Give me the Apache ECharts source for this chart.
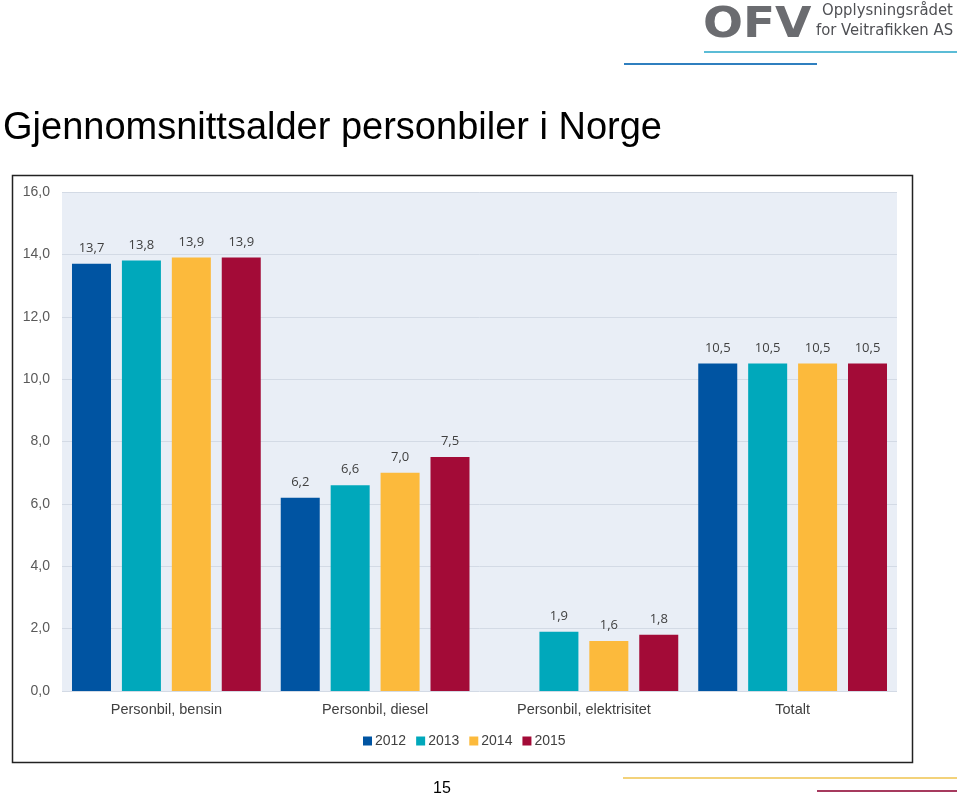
<!DOCTYPE html>
<html><head><meta charset="utf-8">
<script src="https://cdn.jsdelivr.net/npm/echarts@6/dist/echarts.min.js"></script>
<style>html,body{margin:0;padding:0;background:#fff}#c{width:960px;height:798px}</style>
</head><body><div id="c"></div>
<script>
const categories = ['Personbil, bensin', 'Personbil, diesel', 'Personbil, elektrisitet', 'Totalt'];
const years = ['2012', '2013', '2014', '2015'];
const v2012 = [13.7, 6.2, null, 10.5];
const v2013 = [13.8, 6.6, 1.9, 10.5];
const v2014 = [13.9, 7.0, 1.6, 10.5];
const v2015 = [13.9, 7.5, 1.8, 10.5];
const colors = ['#0054a2', '#00a8bb', '#fcba3c', '#a30b37'];
const yTicks = {min: 0, max: 16, interval: 2};

const seriesData = [v2012, v2013, v2014, v2015];
const chart = echarts.init(document.getElementById('c'));
const fmt = v => Number(v).toFixed(1).replace('.', ',');
chart.setOption({
  animation: false,
  title: {text: 'Gjennomsnittsalder personbiler i Norge', left: -2, top: 105,
    textStyle: {fontFamily: 'Liberation Sans', fontSize: 38, fontWeight: 'normal', color: '#000'}},
  grid: {left: 62, right: 63, top: 192, bottom: 107, show: true, backgroundColor: '#e9eef6', borderWidth: 0},
  legend: {bottom: 45, left: 358, itemWidth: 9, itemHeight: 9, itemGap: 10, icon: 'rect',
    textStyle: {fontFamily: 'Liberation Sans', fontSize: 14, color: '#404040', padding: [0, 0, 0, -2]},
    data: years},
  xAxis: {type: 'category', data: categories,
    axisLine: {show: false}, axisTick: {show: false},
    axisLabel: {fontFamily: 'Liberation Sans', fontSize: 14.5, color: '#404040', margin: 11}},
  yAxis: {type: 'value', min: yTicks.min, max: yTicks.max, interval: yTicks.interval,
    axisLine: {show: false}, axisTick: {show: false},
    splitLine: {lineStyle: {color: '#d3dae5', width: 1}},
    axisLabel: {fontFamily: 'Liberation Sans', fontSize: 14, color: '#595959', margin: 12, formatter: fmt,
      padding: [3, 0, 0, 0]}},
  series: years.map((y, i) => ({
    name: y, type: 'bar', data: seriesData[i], barWidth: 39, barGap: '28%',
    itemStyle: {color: colors[i]},
    label: {show: true, position: 'top', distance: 9, formatter: p => fmt(p.value),
      fontFamily: 'Open Sans', fontSize: 13, color: '#404040'}
  })),
  graphic: [
    {type: 'rect', shape: {x: 12.5, y: 175.5, width: 900, height: 587}, style: {fill: 'none', stroke: '#222', lineWidth: 1.5}, z: -1},
    {type: 'text', x: 703, y: 5, scaleX: 1.12, style: {text: 'OFV', fontFamily: 'DejaVu Sans', fontWeight: 'bold', fontSize: 42, fill: '#6b6c70'}},
    {type: 'text', x: 822, y: 2, style: {text: 'Opplysningsrådet', fontFamily: 'DejaVu Sans Condensed', fontSize: 16.5, fill: '#4f5054'}},
    {type: 'text', x: 816, y: 22, style: {text: 'for Veitrafikken AS', fontFamily: 'DejaVu Sans Condensed', fontSize: 16.5, fill: '#4f5054'}},
    {type: 'line', shape: {x1: 704, y1: 52, x2: 957, y2: 52}, style: {stroke: '#5bbcd6', lineWidth: 2}},
    {type: 'line', shape: {x1: 624, y1: 64, x2: 817, y2: 64}, style: {stroke: '#2f7fbf', lineWidth: 2}},
    {type: 'line', shape: {x1: 623, y1: 778, x2: 957, y2: 778}, style: {stroke: '#f3d27a', lineWidth: 2}},
    {type: 'line', shape: {x1: 817, y1: 791, x2: 957, y2: 791}, style: {stroke: '#a63a5e', lineWidth: 2}},
    {type: 'text', x: 433, y: 781, style: {text: '15', fontFamily: 'Liberation Sans', fontSize: 16, fill: '#000'}}
  ]
});
</script></body></html>
